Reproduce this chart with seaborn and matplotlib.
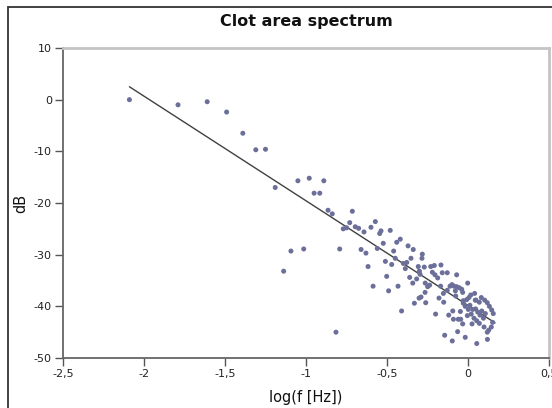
import matplotlib
matplotlib.use("Agg")
import matplotlib.pyplot as plt
import matplotlib.patches as patches
from matplotlib.ticker import FixedLocator, FuncFormatter
import seaborn as sns
import pandas as pd

# --- Data ---
log_f = [-2.09, -1.79, -1.61, -1.49, -1.39, -1.31, -1.25, -1.19, -1.05, -0.98,
         -0.89, -0.95, -0.915, -0.864, -0.838, -0.714, -0.73, -0.77, -0.749, -0.696,
         -0.675, -0.642, -0.599, -0.572, -0.545, -0.537, -0.48, -0.523, -0.44, -0.418,
         -1.093, -1.014, -0.792, -0.66, -0.63, -0.56, -0.459, -0.37, -0.338, -0.449,
         -0.51, -0.471, -0.617, -0.399, -0.378, -0.352, -0.387, -0.307, -0.30, -0.502,
         -0.36, -0.317, -0.341, -0.586, -0.432, -0.49, -0.302, -0.331, -1.138, -0.815,
         -0.41, -0.282, -0.284, -0.27, -0.23, -0.208, -0.167, -0.296, -0.22, -0.204,
         -0.159, -0.128, -0.187, -0.07, -0.264, -0.237, -0.249, -0.169, -0.111, -0.099,
         -0.086, -0.07, -0.054, -0.039, -0.002, -0.128, -0.152, -0.078, -0.033, -0.265,
         -0.29, -0.179, -0.15, -0.076, -0.029, 0.006, 0.017, 0.049, -0.094, -0.047,
         -0.2, -0.119, -0.017, 0.002, 0.047, 0.02, 0.06, -0.045, -0.261, -0.144,
         -0.097, -0.064, -0.017, 0.054, 0.12, -0.09, -0.06, -0.033, 0.025, -0.004,
         0.037, 0.054, 0.07, 0.099, 0.119, 0.128, 0.144, 0.152, 0.156, 0.146,
         0.132, 0.119, 0.103, 0.082, 0.07, 0.045, 0.041, 0.107, 0.085, 0.095,
         0.074, 0.029, 0.012, -0.029, -0.008]
db = [0.0, -1.0, -0.4, -2.4, -6.5, -9.7, -9.6, -17.0, -15.7, -15.2,
      -15.7, -18.1, -18.1, -21.4, -22.1, -21.6, -23.8, -25.0, -24.8, -24.6,
      -24.9, -25.6, -24.7, -23.6, -25.9, -25.4, -25.3, -27.8, -27.6, -27.0,
      -29.3, -28.9, -28.9, -29.0, -29.7, -28.8, -29.3, -28.3, -29.0, -30.7,
      -31.3, -31.9, -32.3, -31.7, -31.5, -30.7, -32.7, -32.3, -33.2, -34.2,
      -34.4, -34.7, -35.5, -36.1, -36.1, -37.0, -38.4, -39.4, -33.2, -45.0,
      -40.9, -29.9, -30.7, -32.4, -32.3, -32.1, -32.0, -33.8, -33.4, -33.9,
      -33.5, -33.5, -34.5, -33.9, -35.5, -35.9, -36.2, -36.1, -36.1, -35.8,
      -36.1, -36.2, -36.4, -36.7, -35.5, -36.9, -37.5, -37.0, -37.3, -37.3,
      -38.2, -38.4, -39.2, -38.0, -38.9, -38.3, -37.8, -38.8, -40.9, -41.0,
      -41.5, -41.7, -40.0, -40.6, -40.5, -41.5, -41.1, -42.5, -39.3, -45.6,
      -46.7, -44.9, -46.0, -47.2, -46.4, -42.5, -42.5, -43.4, -43.4, -41.8,
      -42.3, -42.8, -43.3, -44.0, -45.0, -44.6, -44.0, -43.1, -41.4, -40.7,
      -40.0, -39.3, -38.8, -38.3, -39.2, -38.8, -37.5, -41.4, -40.9, -42.3,
      -41.7, -40.6, -39.8, -39.4, -38.7]

# fitted trend line end points
fit_x = [-2.09, 0.167]
fit_y = [2.5, -43.2]

x_ticks = [-2.5, -2, -1.5, -1, -0.5, 0, 0.5]
y_ticks = [10, 0, -10, -20, -30, -40, -50]

df = pd.DataFrame({"log_f": log_f, "dB": db})
fit = pd.DataFrame({"log_f": fit_x, "dB": fit_y})

sns.set_style("white")
plt.rcParams["font.family"] = ["DejaVu Sans"]

fig = plt.figure(figsize=(5.52, 4.08), dpi=100)
ax = fig.add_axes([63 / 552, 1 - 358 / 408, (549 - 63) / 552, (358 - 48) / 408])

sns.scatterplot(data=df, x="log_f", y="dB", ax=ax, color="#6b6f99",
                s=13, edgecolor="none", zorder=3)
sns.lineplot(data=fit, x="log_f", y="dB", ax=ax, color="#404040",
             linewidth=1.0, zorder=2)

ax.set_xlim(-2.5, 0.5)
ax.set_ylim(-50, 10)
ax.xaxis.set_major_locator(FixedLocator(x_ticks))
ax.yaxis.set_major_locator(FixedLocator(y_ticks))
# comma decimal separator like the original
ax.xaxis.set_major_formatter(FuncFormatter(lambda v, p: ("%g" % v).replace(".", ",")))
ax.yaxis.set_major_formatter(FuncFormatter(lambda v, p: "%g" % v))
ax.tick_params(axis="both", which="major", direction="out", length=6, width=1,
               color="#555555", labelsize=8, labelcolor="#222222", pad=2,
               left=True, bottom=True)

# spines: dark left/bottom, light top/right
for side in ["left", "bottom"]:
    ax.spines[side].set_color("#666666")
    ax.spines[side].set_linewidth(1.3)
for side in ["top", "right"]:
    ax.spines[side].set_color("#c4c4c4")
    ax.spines[side].set_linewidth(2.0)
    ax.spines[side].set_visible(True)

ax.set_xlabel("log(f [Hz])", fontsize=10.5, color="#111111", labelpad=8)
ax.set_ylabel("dB", fontsize=10.5, color="#111111", labelpad=4)
ax.set_title("Clot area spectrum", fontsize=11.5, fontweight="bold",
             color="#111111", pad=16)

# outer chart frame (cut off at right and bottom in the original)
frame = patches.Rectangle((7.5 / 552, -0.1), 1.2, 1.1 - 7.5 / 408,
                          transform=fig.transFigure, fill=False,
                          edgecolor="#333333", linewidth=1.3, clip_on=False)
fig.patches.append(frame)

plt.savefig("out.png", dpi=100)
plt.close()
